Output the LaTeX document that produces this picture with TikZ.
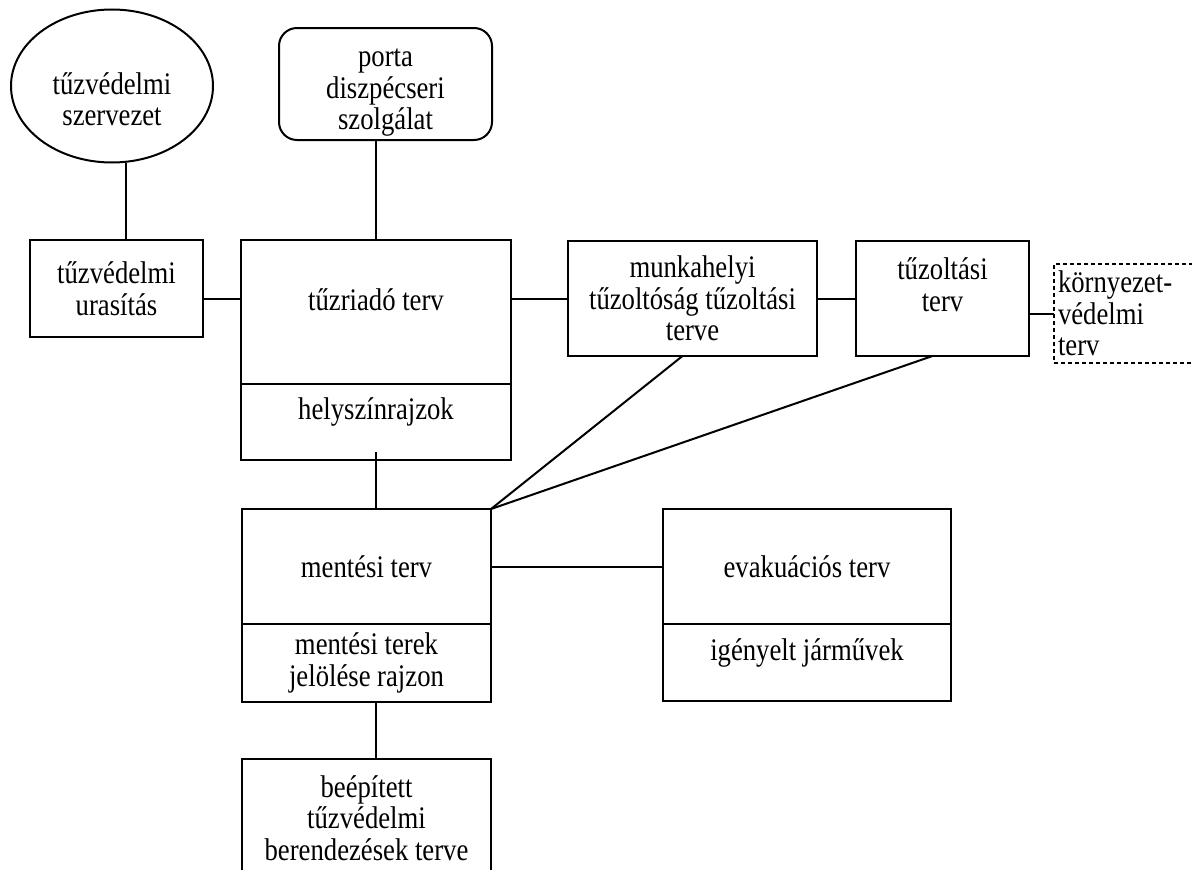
\documentclass[tikz,border=0pt]{standalone}
\usepackage{fontspec}
\setmainfont{Liberation Serif}[FakeStretch=0.85]
\usetikzlibrary{shapes.geometric}
\tikzset{
	terv/.style={
		rectangle,
		draw,
		line width=2pt,
		align=center,
		inner sep=0pt,
		outer sep=0pt,
		anchor=north west
	},
	szervezet/.style={ellipse, draw, line width=2pt, inner sep=0pt, outer sep=0pt},
	szolgalat/.style={rectangle, rounded corners=18pt, draw, line width=2pt, outer sep=0pt, anchor=north west},
	kulso/.style={
		rectangle,
		draw,
		dash pattern=on 4pt off 3pt,
		line width=1.5pt,
		align=left,
		inner sep=4pt,
		outer sep=0pt,
		anchor=north west
	},
	felirat/.style={align=center, inner sep=0pt},
	kapcsolat/.style={line width=2pt}
}

\begin{document}
\begin{tikzpicture}[x=1pt, y=-1pt, font=\fontsize{31.4}{31.5}\selectfont]
\useasboundingbox (0,0) rectangle (1192,870);
\clip (0,0) rectangle (1192,870);
% felso sor
\node [szervezet, minimum width=202, minimum height=153] (szervezet) at (112,86) {};
\node [felirat] (szervezetT) at ([yshift=-13]szervezet.center) {tűzvédelmi\\szervezet};
\node [szolgalat, minimum width=213, minimum height=112] (porta) at (279,28) {};
\node [felirat] (portaT) at ([yshift=-9]porta.center) {porta\\diszpécseri\\szolgálat};
% kozepso sor
\node [terv, minimum width=173, minimum height=97] (utasitas) at (30,240) {tűzvédelmi\\urasítás};
\node [terv, minimum width=270, minimum height=144] (tuzriado) at (241,240) {};
\node [felirat] (tuzriadoT) at ([yshift=12]tuzriado.center) {tűzriadó terv};
\node [terv, minimum width=270, minimum height=76] (helyszin) at (tuzriado.south west) {};
\node [felirat] (helyszinT) at ([yshift=10]helyszin.center) {helyszínrajzok};
\node [terv, minimum width=249, minimum height=115] (munkahelyi) at (568,241) {munkahelyi\\tűzoltóság tűzoltási\\terve};
\node [terv, minimum width=173, minimum height=115] (tuzoltasi) at (856,241) {};
\node [felirat] (tuzoltasiT) at ([yshift=14]tuzoltasi.center) {tűzoltási\\terv};
\node [kulso, text width=152, minimum height=99] (kornyezet) at (1054,264) {környezet-\\védelmi\\terv};
% also resz
\node [terv, minimum width=249, minimum height=115] (mentesi) at (242,509) {mentési terv};
\node [terv, minimum width=249, minimum height=78] (terek) at (mentesi.south west) {mentési terek\\jelölése rajzon};
\node [terv, minimum width=288, minimum height=115] (evakuacios) at (663,509) {evakuációs terv};
\node [terv, minimum width=288, minimum height=77] (jarmuvek) at (evakuacios.south west) {};
\node [felirat] (jarmuvekT) at ([yshift=10]jarmuvek.center) {igényelt járművek};
\node [terv, minimum width=249, minimum height=150] (beepitett) at (242,759) {};
\node [felirat] (beepitettT) at ([yshift=-59]beepitett.north) {beépített\\tűzvédelmi\\berendezések terve};
% kapcsolatok
\draw [kapcsolat] ([xshift=14]szervezet.south) -- ([xshift=14]szervezet.south |- utasitas.north);
\draw [kapcsolat] ([yshift=-10]utasitas.east) -- ([yshift=-10]utasitas.east -| tuzriado.west);
\draw [kapcsolat] (tuzriado.north) -- (tuzriado.north |- porta.south);
\draw [kapcsolat] (tuzriado.east |- munkahelyi.west) -- (munkahelyi.west);
\draw [kapcsolat] (munkahelyi.east) -- (tuzoltasi.west);
\draw [kapcsolat] (tuzoltasi.east |- kornyezet.west) -- (kornyezet.west);
\draw [kapcsolat] ([yshift=8]helyszin.south) -- (helyszin.south |- mentesi.north);
\draw [kapcsolat] (mentesi.east) -- (evakuacios.west);
\draw [kapcsolat] (mentesi.north east) -- ([xshift=-10]munkahelyi.south);
\draw [kapcsolat] (mentesi.north east) -- ([xshift=-10]tuzoltasi.south);
\draw [kapcsolat] (helyszin.south |- terek.south) -- (helyszin.south |- beepitett.north);
\end{tikzpicture}
\end{document}
